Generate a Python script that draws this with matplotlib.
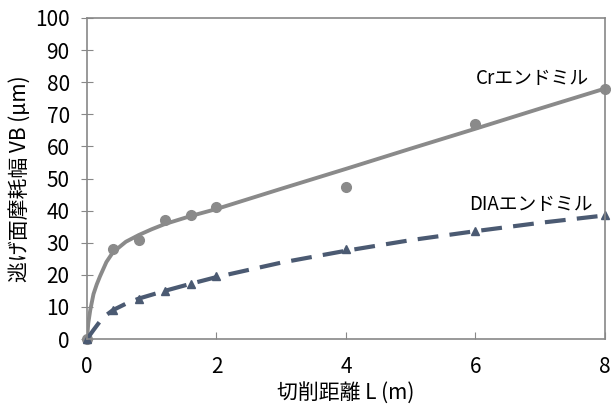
import numpy as np
import matplotlib
matplotlib.use('Agg')
import matplotlib.pyplot as plt

plt.rcParams['font.family'] = ['Noto Sans CJK JP', 'DejaVu Sans']

# measured points
cr_L = [0, 0.4, 0.8, 1.2, 1.6, 2, 4, 6, 8]
cr_vb = [0, 28, 31, 37, 38.5, 41, 47.5, 67, 78]
dia_L = [0, 0.4, 0.8, 1.2, 1.6, 2, 4, 6, 8]
dia_vb = [0, 9, 12.5, 15, 17, 19.5, 28, 33.5, 38.5]

# fitted curves
cr_fit_L = [0, 0.02, 0.05, 0.1, 0.15, 0.2, 0.3, 0.4, 0.6, 0.8, 1.0, 1.2, 1.6, 2, 3, 4, 5, 6, 7, 8]
cr_fit_vb = [0, 5, 9, 14, 17, 19.5, 24, 27, 30.3, 32.4, 34.2, 35.8, 38.3, 40.5, 46.8, 53, 59.3, 65.5, 71.8, 78]
dia_fit_L = [0, 0.1, 0.2, 0.3, 0.4, 0.6, 0.8, 1.0, 1.2, 1.6, 2, 3, 4, 5, 6, 7, 8]
dia_fit_vb = [0, 2.8, 5.5, 7.5, 9.0, 11.0, 12.6, 13.8, 15, 17.2, 19.3, 23.8, 27.5, 30.8, 33.6, 36.2, 38.5]

cr_color = '#8a8a8a'
dia_color = '#4b5a72'

fig = plt.figure(figsize=(6.11, 4.08), dpi=100)
ax = fig.add_axes([0.1424, 0.169, 0.8476, 0.787])

ax.plot(cr_fit_L, cr_fit_vb, color=cr_color, lw=2.8, solid_capstyle='round')
ax.plot(cr_L, cr_vb, 'o', color=cr_color, ms=7, clip_on=False)
ax.plot(dia_fit_L, dia_fit_vb, color=dia_color, lw=3, dashes=(5, 2.7))
ax.plot(dia_L, dia_vb, '^', color=dia_color, ms=6, clip_on=False)

ax.text(6.0, 81, 'Crエンドミル', fontsize=13.5, va='center', ha='left')
ax.text(5.9, 42, 'DIAエンドミル', fontsize=13.5, va='center', ha='left')

ax.set_xlim(0, 8)
ax.set_ylim(0, 100)
ax.set_xticks([0, 2, 4, 6, 8])
ax.set_yticks(np.arange(0, 101, 10))
ax.tick_params(axis='x', direction='in', length=5, color='#888888', labelsize=15, pad=12)
ax.tick_params(axis='y', direction='inout', length=9, color='#888888', labelsize=15, pad=8)
for s in ax.spines.values():
    s.set_color('#888888')
    s.set_linewidth(1.2)

ax.set_xlabel('切削距離 L (m)', fontsize=15, labelpad=3)
ax.set_ylabel('逃げ面摩耗幅 VB (μm)', fontsize=15, labelpad=3)

fig.savefig('out.png', dpi=100)
